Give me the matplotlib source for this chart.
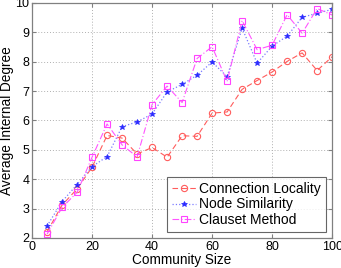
import matplotlib
matplotlib.use("Agg")
import matplotlib.pyplot as plt

plt.rcParams['font.family'] = ['Liberation Sans', 'DejaVu Sans']

sizes = [5, 10, 15, 20, 25, 30, 35, 40, 45, 50, 55, 60, 65, 70, 75, 80, 85, 90, 95, 100]
connection_locality = [2.21, 3.12, 3.67, 4.41, 5.49, 5.40, 4.86, 5.08, 4.75, 5.48, 5.46, 6.25,
                       6.29, 7.06, 7.36, 7.65, 8.01, 8.30, 7.70, 8.17]
node_similarity = [2.41, 3.24, 3.82, 4.43, 4.77, 5.79, 5.95, 6.22, 6.97, 7.23, 7.54, 7.99,
                   7.49, 9.14, 7.95, 8.53, 8.87, 9.51, 9.65, 9.78]
clauset_method = [2.13, 3.04, 3.55, 4.75, 5.88, 5.17, 4.76, 6.54, 7.17, 6.61, 8.11, 8.51,
                  7.33, 9.40, 8.41, 8.56, 9.60, 8.97, 9.81, 9.59]
labels = ['Connection Locality', 'Node Similarity', 'Clauset Method']

fig = plt.figure(figsize=(3.41, 2.68), dpi=100)
ax = fig.add_axes([0.094, 0.112, 0.880, 0.877])

ax.plot(sizes, connection_locality, linestyle=(0, (5, 3)), color='#ff5c5c', lw=0.8,
        marker='o', markersize=4.5, markerfacecolor='none', markeredgecolor='#ff5c5c',
        markeredgewidth=0.8, label=labels[0])
ax.plot(sizes, node_similarity, linestyle=':', color='#7a7aff', lw=0.9,
        marker='*', markersize=4, markerfacecolor='#2a2aff', markeredgecolor='#2a2aff',
        markeredgewidth=0.5, label=labels[1])
ax.plot(sizes, clauset_method, linestyle=(0, (6, 2, 1, 2)), color='#ff55ff', lw=0.8,
        marker='s', markersize=5, markerfacecolor='none', markeredgecolor='#ff44ff',
        markeredgewidth=0.8, label=labels[2])

ax.set_xlim(0, 100)
ax.set_ylim(2, 10)
ax.set_xticks([0, 20, 40, 60, 80, 100])
ax.set_yticks([2, 3, 4, 5, 6, 7, 8, 9, 10])
ax.grid(True, linestyle=(0, (1, 2)), color='#b0b0b0', lw=0.7)
ax.tick_params(direction='in', top=True, right=True, labelsize=9, length=3,
               color='#808080', pad=2)
for s in ax.spines.values():
    s.set_color('#808080')
    s.set_linewidth(0.9)

ax.set_xlabel('Community Size', fontsize=9.8, labelpad=0)
ax.set_ylabel('Average Internal Degree', fontsize=9.8, labelpad=1)

leg = ax.legend(loc='lower right', fontsize=10, frameon=True, fancybox=False,
                edgecolor='#404040', borderpad=0.35, labelspacing=0.1,
                handlelength=1.7, handletextpad=0.25, borderaxespad=0.45)
leg.get_frame().set_linewidth(0.8)

fig.savefig('out.png', dpi=100)
